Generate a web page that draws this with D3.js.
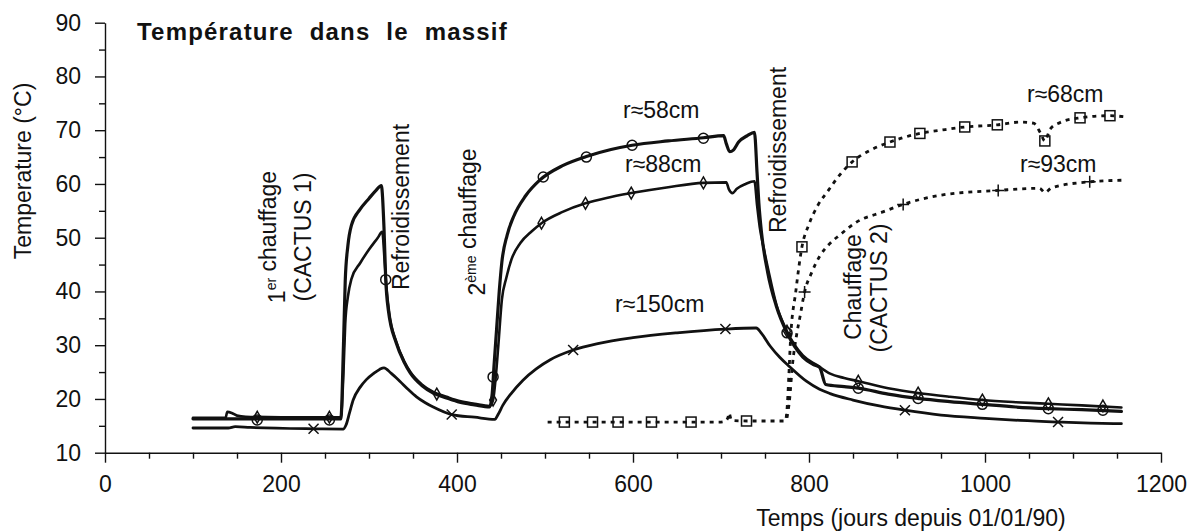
<!DOCTYPE html>
<html><head><meta charset="utf-8">
<script src="https://cdn.jsdelivr.net/npm/d3@7"></script>
<style>
body{margin:0;background:#fff}
svg{display:block}
text{font-family:"Liberation Sans",Arial,Helvetica,sans-serif;fill:#111}
</style>
</head><body>
<svg id="c" width="1195" height="532"></svg>
<script>
// ---- data (days since 01/01/90, temperature °C) ----
const xTicks = [0, 200, 400, 600, 800, 1000, 1200];
const xMinor = [50,100,150,250,300,350,450,500,550,650,700,750,850,900,950,1050,1100,1150];
const yTicks = [10, 20, 30, 40, 50, 60, 70, 80, 90];
const yMinor = [15, 25, 35, 45, 55, 65, 75, 85];

const r58 = [[100,16.3],[268,16.3],[271,30],[273,42],[276,48.5],[280,52.3],[290,55.3],[300,57.3],[308,58.8],[314,59.7],[317,52],[319,42.3],[322,36.5],[331,30.4],[340,26.8],[347,24.8],[360,22.5],[373,21.1],[388,20.2],[403,19.4],[420,18.9],[437,18.5],[440,21],[442,26],[445,33],[448,40],[451,45.5],[457,50.5],[464,53.8],[478,57.8],[494,60.7],[520,63.4],[547,65.1],[575,66.4],[599,67.2],[640,68],[680,68.6],[703,69.0],[706,67.5],[710,66.0],[714,66.3],[720,67.8],[730,69],[738,69.6],[741,62],[743,56.5],[746,51],[753,43.6],[763,37.2],[775,32.3],[793,27.8],[805,26.4],[812,25.9],[819,22.7],[840,22.3],[856,22.0],[890,20.9],[924,20.1],[960,19.5],[997,19.0],[1035,18.5],[1072,18.2],[1110,18.0],[1155,17.7]];
const r88 = [[100,16.5],[137,16.5],[139,17.6],[144,17.4],[150,16.9],[160,16.7],[200,16.6],[268,16.6],[271,25],[273,34],[276,39],[280,42.3],[290,45.3],[300,47.8],[310,50.0],[315,51.1],[318,45],[320,40.5],[323,36],[331,30.6],[340,27.0],[347,25.0],[360,22.7],[373,21.3],[388,20.4],[403,19.6],[420,19.1],[437,18.7],[441,19.8],[444,24],[447,30],[451,38.5],[456,42.5],[462,46],[472,49],[485,51.2],[496,52.7],[520,54.8],[546,56.4],[570,57.4],[598,58.3],[640,59.4],[680,60.2],[706,60.3],[709,59.0],[713,58.3],[718,59.1],[728,60.0],[738,60.5],[741,56],[744,52],[748,48.5],[754,43.8],[763,37.5],[775,32.6],[793,28.1],[810,26.2],[824,24.7],[840,23.9],[856,23.3],[890,22.0],[924,21.1],[960,20.4],[997,19.8],[1035,19.4],[1072,19.1],[1110,18.8],[1155,18.4]];
const r150 = [[100,14.6],[140,14.6],[148,14.85],[165,14.7],[237,14.45],[271,14.4],[274,15.2],[278,17.5],[282,19.8],[290,22.2],[297,23.6],[305,24.7],[312,25.5],[317,25.8],[325,24.8],[335,23.3],[345,21.7],[354,20.4],[364,19.3],[373,18.5],[394,17.1],[420,16.6],[443,16.2],[447,17.2],[452,18.8],[462,21.1],[475,23.5],[490,25.6],[506,27.3],[532,29.1],[560,30.3],[600,31.4],[650,32.3],[705,33.0],[740,33.2],[746,32.2],[756,29.8],[767,27.7],[778,26.0],[797,23.3],[812,21.8],[824,21.0],[850,19.8],[880,18.7],[909,17.9],[950,17.0],[1000,16.4],[1040,16.0],[1083,15.7],[1120,15.5],[1155,15.4]];
const r68 = [[503,15.7],[700,15.7],[705,15.9],[708,16.6],[709,17.4],[712,16.0],[730,15.9],[773,15.9],[775,18],[777,24],[779,31],[785,40],[792,48.3],[800,52.5],[810,56],[822,58.8],[835,61.7],[849,64.1],[870,66.3],[892,67.8],[926,69.4],[950,70.0],[977,70.6],[1014,71.0],[1040,71.5],[1055,71.3],[1063,69.5],[1068,68.0],[1074,70.2],[1085,71.4],[1108,72.3],[1142,72.7],[1158,72.5]];
const r93 = [[775,16.5],[778,20],[781,26],[786,32],[790,35.5],[795,39.9],[803,43.5],[812,46.5],[823,48.8],[835,50.5],[854,52.9],[884,54.8],[907,56.2],[949,57.9],[1015,58.8],[1062,59.2],[1068,58.4],[1076,59.3],[1119,60.4],[1158,60.7]];

const r58Marks = [[173,16.1],[255,16.1],[319,42.2],[441,24.1],[498,61.3],[547,65.0],[599,67.2],[680,68.5],[775,32.3],[856,22.0],[924,20.1],[997,19.0],[1072,18.2],[1134,17.9]];
const r88Marks = [[173,16.6],[255,16.6],[377,20.9],[441,19.8],[496,52.7],[546,56.4],[598,58.3],[680,60.2],[775,32.6],[856,23.3],[924,21.1],[997,19.8],[1072,19.1],[1134,18.7]];
const r150Marks = [[237,14.45],[394,17.1],[532,29.1],[705,33.0],[909,17.9],[1083,15.7]];
const r68Marks = [[522,15.7],[554,15.7],[583,15.7],[621,15.7],[666,15.7],[729,15.9],[792,48.3],[849,64.1],[892,67.8],[926,69.4],[977,70.6],[1014,71.0],[1068,68.0],[1108,72.3],[1142,72.7]];
const r93Marks = [[795,39.9],[907,56.2],[1015,58.8],[1119,60.4]];

const curveLabels = ["r≈58cm","r≈88cm","r≈150cm","r≈68cm","r≈93cm"];
const titleText = "Température dans le massif";
const xTitle = "Temps (jours depuis 01/01/90)";
const yTitle = "Temperature (°C)";

// ---- drawing ----
const svg = d3.select("#c");
const ink = "#111";
const x = d3.scaleLinear().domain([0,1200]).range([105,1161]);
const y = d3.scaleLinear().domain([10,90]).range([452.7,22.7]);

// axes
const fs = 23;
svg.append("g").attr("transform",`translate(0,${y(10)})`)
  .call(d3.axisBottom(x).tickValues(xTicks).tickSize(10).tickSizeOuter(0).tickPadding(13).tickFormat(d3.format("d")));
svg.append("g").attr("transform",`translate(0,${y(10)})`)
  .call(d3.axisBottom(x).tickValues(xMinor).tickSize(6).tickSizeOuter(0).tickFormat(""))
  .select(".domain").remove();
svg.append("g").attr("transform",`translate(${x(0)},0)`)
  .call(d3.axisLeft(y).tickValues(yTicks).tickSize(10).tickSizeOuter(0).tickPadding(14).tickFormat(d3.format("d")));
svg.append("g").attr("transform",`translate(${x(0)},0)`)
  .call(d3.axisLeft(y).tickValues(yMinor).tickSize(6).tickSizeOuter(0).tickFormat(""))
  .select(".domain").remove();
svg.selectAll(".domain, .tick line").attr("stroke",ink).attr("stroke-width",1.4);
svg.selectAll(".tick text").attr("font-size",fs).attr("fill",ink)
  .attr("font-family",'"Liberation Sans",Arial,sans-serif');

// lines
const line = d3.line().x(d=>x(d[0])).y(d=>y(d[1])).curve(d3.curveMonotoneX);
function path(data, w, dash){
  svg.append("path").datum(data).attr("d",line).attr("fill","none")
    .attr("stroke",ink).attr("stroke-width",w).attr("stroke-linejoin","round")
    .attr("stroke-linecap", dash ? "butt" : "round")
    .attr("stroke-dasharray", dash || null);
}
path(r150, 2.8);
path(r88, 2.6);
path(r58, 3.2);
path(r68, 2.8, "4,5");
path(r93, 2.8, "4,5");

// markers
function marks(data, type){
  const g = svg.append("g").attr("fill","none").attr("stroke",ink).attr("stroke-width",1.5);
  data.forEach(d=>{
    const px = x(d[0]), py = y(d[1]);
    if(type==="circle") g.append("circle").attr("cx",px).attr("cy",py).attr("r",5);
    else if(type==="diamond") g.append("path").attr("transform",`translate(${px},${py})`)
      .attr("d",d3.symbol(d3.symbolDiamond,40)());
    else if(type==="square") g.append("rect").attr("x",px-5).attr("y",py-5).attr("width",10).attr("height",10);
    else if(type==="cross") g.append("path").attr("d",`M${px-5},${py-5}L${px+5},${py+5}M${px-5},${py+5}L${px+5},${py-5}`);
    else if(type==="plus") g.append("path").attr("d",`M${px-6},${py}L${px+6},${py}M${px},${py-6}L${px},${py+6}`);
  });
}
marks(r58Marks,"circle");
marks(r88Marks,"diamond");
marks(r150Marks,"cross");
marks(r68Marks,"square");
marks(r93Marks,"plus");

// title
svg.append("text").attr("x",137).attr("y",39.5).attr("font-size",24).attr("font-weight","bold")
  .attr("letter-spacing",1.2).attr("word-spacing",8).text(titleText);

// axis titles
svg.append("text").attr("x",911).attr("y",526).attr("text-anchor","middle").attr("font-size",fs).text(xTitle);
svg.append("text").attr("transform","translate(31,171) rotate(-90)").attr("text-anchor","middle")
  .attr("font-size",fs).text(yTitle);

// rotated annotations
function rot(bx, cy, parts){
  const t = svg.append("text").attr("transform",`translate(${bx},${cy}) rotate(-90)`)
    .attr("text-anchor","middle").attr("font-size",fs);
  parts.forEach(p=>{
    if(typeof p === "string") t.append("tspan").text(p);
    else { t.append("tspan").attr("font-size",14).attr("dy",-9).text(p.sup);
           t.append("tspan").attr("dy",9).text(""); }
  });
}
rot(285, 237, ["1",{sup:"er"}," chauffage"]);
rot(311, 237, ["(CACTUS 1)"]);
rot(409, 207, ["Refroidissement"]);
rot(485, 222, ["2",{sup:"ème"}," chauffage"]);
rot(786, 150, ["Refroidissement"]);
rot(861, 287, ["Chauffage"]);
rot(887, 288, ["(CACTUS 2)"]);

// curve labels
const lblPos = [[623,118],[625,172],[615,312],[1027,102],[1020,172]];
curveLabels.forEach((s,i)=>{
  svg.append("text").attr("x",lblPos[i][0]).attr("y",lblPos[i][1]).attr("font-size",fs).text(s);
});
</script>
</body></html>
